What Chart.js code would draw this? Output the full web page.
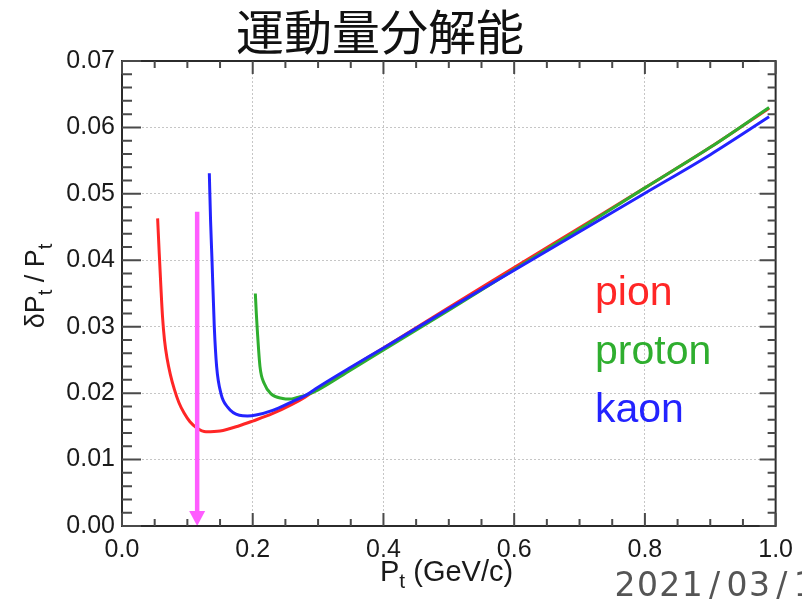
<!DOCTYPE html>
<html>
<head>
<meta charset="utf-8">
<script src="https://cdn.jsdelivr.net/npm/chart.js@4/dist/chart.umd.min.js"></script>
<style>
  html, body { margin: 0; padding: 0; background: #ffffff; }
  #wrap { width: 802px; height: 602px; position: relative; }
</style>
</head>
<body>
<div id="wrap"><canvas id="c" width="802" height="602"></canvas></div>
<script>
// Momentum resolution dPt/Pt versus transverse momentum Pt (GeV/c)

const pionPt  = [0.0545, 0.0570, 0.0595, 0.0620, 0.0650, 0.0690, 0.0740, 0.0800, 0.0870, 0.0950, 0.1040, 0.1140, 0.1285, 0.1500, 0.1795, 0.2000, 0.2300, 0.2600, 0.2800, 0.3000, 0.3500, 0.4000, 0.5000, 0.6000, 0.7000, 0.8000, 0.9000, 0.9900];
const pionRes = [0.0463, 0.0410, 0.0360, 0.0315, 0.0280, 0.0252, 0.0228, 0.0206, 0.0186, 0.0170, 0.0157, 0.0148, 0.01418, 0.0143, 0.0151, 0.0158, 0.0169, 0.0183, 0.0194, 0.0207, 0.0238, 0.0268, 0.0329, 0.0389, 0.0449, 0.0509, 0.0570, 0.0629];

const protonPt  = [0.2040, 0.2055, 0.2070, 0.2111, 0.2178, 0.2280, 0.2458, 0.2560, 0.2700, 0.2816, 0.3000, 0.3500, 0.4000, 0.5000, 0.6000, 0.7000, 0.8000, 0.9000, 0.9900];
const protonRes = [0.0350, 0.0320, 0.0295, 0.0240, 0.0214, 0.0199, 0.0192, 0.0191, 0.0194, 0.0197, 0.0205, 0.0235, 0.0265, 0.0325, 0.0386, 0.0447, 0.0509, 0.0570, 0.0630];

const kaonPt  = [0.1336, 0.1355, 0.1377, 0.1412, 0.1448, 0.1515, 0.1616, 0.1795, 0.1920, 0.2050, 0.2305, 0.2600, 0.2816, 0.3000, 0.3500, 0.4000, 0.5000, 0.6000, 0.7000, 0.8000, 0.9000, 0.9900];
const kaonRes = [0.0531, 0.0460, 0.0400, 0.0300, 0.0240, 0.0199, 0.0179, 0.01667, 0.01657, 0.0167, 0.0174, 0.0187, 0.0197, 0.0209, 0.0239, 0.0268, 0.0327, 0.0385, 0.0443, 0.0501, 0.0559, 0.0616];

// Marker arrow: Pt position and the resolution range it spans
const arrowPt = 0.115;
const arrowFrom = 0.0473;
const arrowTo = 0.0;

const seriesNames = ['pion', 'proton', 'kaon'];
const seriesColors = ['#ff2626', '#2fae2f', '#2323ff'];

const titleText = '運動量分解能';
const dateText = '2021/03/1';

const xTickLabels = ['0.0', '0.2', '0.4', '0.6', '0.8', '1.0'];
const yTickLabels = ['0.00', '0.01', '0.02', '0.03', '0.04', '0.05', '0.06', '0.07'];

function toPoints(xs, ys) {
  return xs.map((x, i) => ({ x: x, y: ys[i] }));
}

const LABEL_FONT = '"Liberation Sans", Arial, sans-serif';

// Draw text with a lowered subscript segment
function drawSubText(ctx, parts, x, y, mainSize, subSize, subDrop) {
  let cx = x;
  parts.forEach(p => {
    ctx.font = (p.sub ? subSize : mainSize) + 'px ' + LABEL_FONT;
    ctx.fillText(p.t, cx, p.sub ? y + subDrop : y);
    cx += ctx.measureText(p.t).width;
  });
}
function measureSubText(ctx, parts, mainSize, subSize) {
  let w = 0;
  parts.forEach(p => {
    ctx.font = (p.sub ? subSize : mainSize) + 'px ' + LABEL_FONT;
    w += ctx.measureText(p.t).width;
  });
  return w;
}

const decorPlugin = {
  id: 'decor',
  afterDatasetsDraw(chart) {
    const ctx = chart.ctx;
    const xs = chart.scales.x, ys = chart.scales.y;
    const a = chart.chartArea;

    // magenta arrow
    const ax = xs.getPixelForValue(arrowPt);
    const aTop = ys.getPixelForValue(arrowFrom);
    const aBot = ys.getPixelForValue(arrowTo);
    ctx.save();
    ctx.strokeStyle = '#ff5cff';
    ctx.fillStyle = '#ff5cff';
    ctx.lineWidth = 4.5;
    ctx.beginPath();
    ctx.moveTo(ax, aTop);
    ctx.lineTo(ax, aBot - 12);
    ctx.stroke();
    ctx.beginPath();
    ctx.moveTo(ax - 8, aBot - 15);
    ctx.lineTo(ax + 8, aBot - 15);
    ctx.lineTo(ax, aBot);
    ctx.closePath();
    ctx.fill();
    ctx.restore();

    // frame
    ctx.save();
    ctx.strokeStyle = '#2b2b2b';
    ctx.lineWidth = 2;
    ctx.strokeRect(a.left, a.top, a.right - a.left, a.bottom - a.top);

    // inward tick marks on all four sides
    ctx.strokeStyle = '#4a4a4a';
    ctx.lineWidth = 2;
    ctx.beginPath();
    for (let i = 0; i <= 20; i++) {
      const px = xs.getPixelForValue(i * 0.05);
      const major = i % 4 === 0;
      const len = major ? 13 : 7;
      ctx.moveTo(px, a.bottom); ctx.lineTo(px, a.bottom - len);
      ctx.moveTo(px, a.top); ctx.lineTo(px, a.top + len);
    }
    for (let j = 0; j <= 35; j++) {
      const py = ys.getPixelForValue(j * 0.002);
      const major = j % 5 === 0;
      const ll = major ? 19 : 10;
      const lr = major ? 16 : 8;
      ctx.moveTo(a.left, py); ctx.lineTo(a.left + ll, py);
      ctx.moveTo(a.right, py); ctx.lineTo(a.right - lr, py);
    }
    ctx.stroke();
    ctx.restore();

    // series names
    ctx.save();
    ctx.font = '41px ' + LABEL_FONT;
    ctx.textAlign = 'left';
    ctx.textBaseline = 'alphabetic';
    const lx = a.left + 473;
    const baselines = [a.top + 244, a.top + 302.5, a.top + 361];
    seriesNames.forEach((n, i) => {
      ctx.fillStyle = seriesColors[i];
      ctx.fillText(n, lx, baselines[i]);
    });
    ctx.restore();
  },
  afterDraw(chart) {
    const ctx = chart.ctx;
    ctx.save();
    // main title
    ctx.fillStyle = '#111111';
    ctx.font = '48px "Noto Sans CJK JP", sans-serif';
    ctx.textAlign = 'center';
    ctx.textBaseline = 'alphabetic';
    ctx.fillText(titleText, 380, 50);

    // x axis title
    ctx.textAlign = 'left';
    ctx.fillStyle = '#1a1a1a';
    const xParts = [{ t: 'P' }, { t: 't', sub: true }, { t: ' (GeV/c)' }];
    drawSubText(ctx, xParts, 380, 581, 29, 21, 7);

    // y axis title, rotated
    const yParts = [{ t: 'δP' }, { t: 't', sub: true }, { t: ' / P' }, { t: 't', sub: true }];
    const w = measureSubText(ctx, yParts, 27, 20);
    ctx.translate(44, 286);
    ctx.rotate(-Math.PI / 2);
    drawSubText(ctx, yParts, -w / 2, 0, 27, 20, 8);
    ctx.restore();

    // date stamp
    ctx.save();
    ctx.fillStyle = '#555555';
    ctx.font = '33px "DejaVu Sans", sans-serif';
    ctx.textAlign = 'center';
    ctx.textBaseline = 'alphabetic';
    for (let i = 0; i < dateText.length; i++) {
      ctx.fillText(dateText[i], 625 + 22.4 * i, 596);
    }
    ctx.restore();
  }
};

const ds = [
  { pt: pionPt, res: pionRes, order: 2 },
  { pt: protonPt, res: protonRes, order: 1 },
  { pt: kaonPt, res: kaonRes, order: 0 }
].map((s, i) => ({
  label: seriesNames[i],
  data: toPoints(s.pt, s.res),
  borderColor: seriesColors[i],
  backgroundColor: seriesColors[i],
  borderWidth: 3,
  pointRadius: 0,
  fill: false,
  cubicInterpolationMode: 'monotone',
  order: s.order
}));

const hideEdge = (scaleMin, scaleMax) => (c) => {
  const v = c.tick ? c.tick.value : null;
  if (v === null) return '#c6c6c6';
  if (Math.abs(v - scaleMin) < 1e-9 || Math.abs(v - scaleMax) < 1e-9) return 'rgba(0,0,0,0)';
  return '#c6c6c6';
};

new Chart(document.getElementById('c'), {
  type: 'line',
  data: { datasets: ds },
  options: {
    responsive: false,
    animation: false,
    devicePixelRatio: 1,
    layout: { padding: { top: 61, right: 25, left: 0, bottom: 0 } },
    plugins: {
      legend: { display: false },
      tooltip: { enabled: false },
      title: { display: false }
    },
    scales: {
      x: {
        type: 'linear',
        min: 0,
        max: 1,
        ticks: {
          stepSize: 0.2,
          autoSkip: false,
          maxRotation: 0,
          padding: 9,
          color: '#1a1a1a',
          font: { family: LABEL_FONT, size: 25 },
          callback: (v) => {
            const i = Math.round(v / 0.2);
            return Math.abs(v - i * 0.2) < 1e-6 ? xTickLabels[i] : '';
          }
        },
        grid: { color: hideEdge(0, 1), lineWidth: 1, drawTicks: false },
        border: { display: false, dash: [2, 2] },
        afterFit: (s) => { s.height = 76; }
      },
      y: {
        type: 'linear',
        min: 0,
        max: 0.07,
        ticks: {
          stepSize: 0.01,
          autoSkip: false,
          padding: 7,
          color: '#1a1a1a',
          font: { family: LABEL_FONT, size: 25 },
          callback: (v) => {
            const i = Math.round(v / 0.01);
            return Math.abs(v - i * 0.01) < 1e-7 ? yTickLabels[i] : '';
          }
        },
        grid: { color: hideEdge(0, 0.07), lineWidth: 1, drawTicks: false },
        border: { display: false, dash: [2, 2] },
        afterFit: (s) => { s.width = 122; }
      }
    }
  },
  plugins: [decorPlugin]
});
</script>
</body>
</html>
